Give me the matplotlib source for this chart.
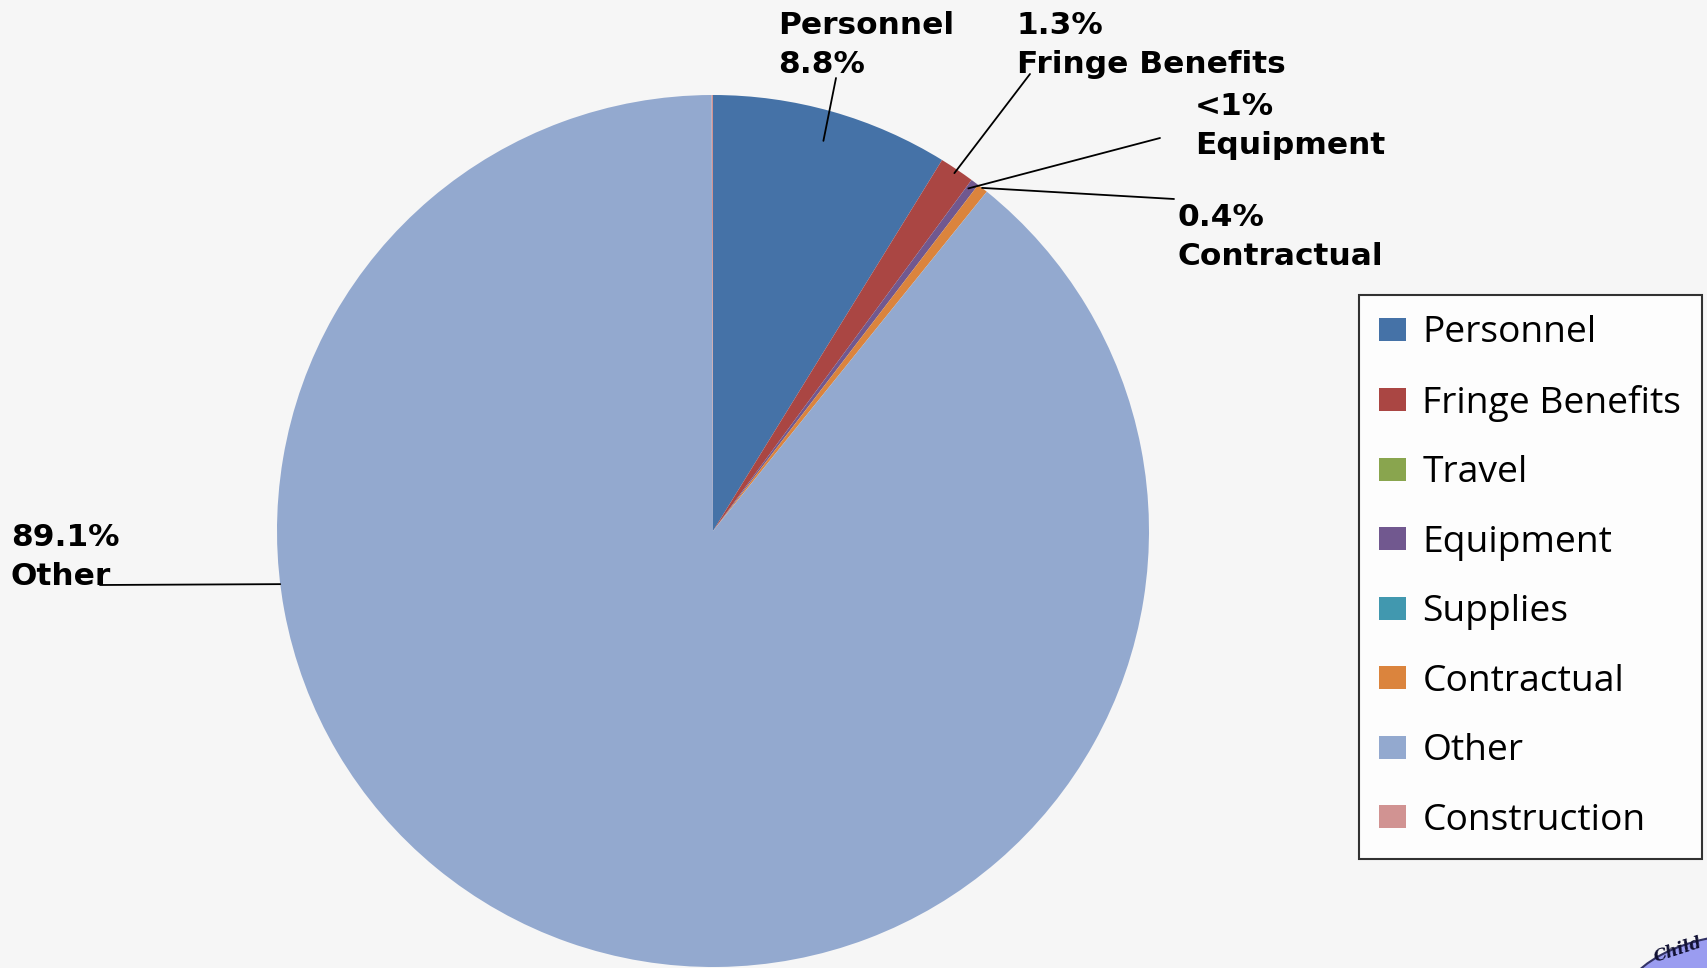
import numpy as np
from matplotlib import pyplot as plt
from matplotlib.patches import Ellipse

categorias = ['Personnel', 'Fringe Benefits', 'Travel', 'Equipment',
              'Supplies', 'Contractual', 'Other', 'Construction']
porcentajes = [8.8, 1.3, 0.0, 0.3, 0.0, 0.4, 89.1, 0.05]
colores = ['#4572A7', '#AA4643', '#89A54E', '#71588F',
           '#4198AF', '#DB843D', '#93A9CF', '#D19392']

# etiquetas: texto, esquina sup-izq del texto (px), inicio de la linea (px),
# angulo y radio donde toca la rebanada
etiquetas = [
    ('Personnel\n8.8%', (778, 11), (836, 78), 74.2, 0.93),
    ('1.3%\nFringe Benefits', (1017, 11), (1030, 74), 56.0, 0.99),
    ('<1%\nEquipment', (1195, 92), (1160, 138), 53.3, 0.98),
    ('0.4%\nContractual', (1178, 203), (1174, 199), 51.9, 1.0),
    ('89.1%\nOther', (11, 523), (100, 585), 187.0, 1.0),
]

W, H = 1708, 968
fig = plt.figure(figsize=(W / 100, H / 100), dpi=100, facecolor='#f6f6f6')

cx, cy, r = 713, 531, 436
ax = fig.add_axes([(cx - r) / W, (H - cy - r) / H, 2 * r / W, 2 * r / H])
wedges, _ = ax.pie(porcentajes, colors=colores, startangle=90,
                   counterclock=False, wedgeprops=dict(linewidth=0))
ax.set_xlim(-1, 1)
ax.set_ylim(-1, 1)
ax.set_aspect('equal')
ax.axis('off')

for texto, (tx, ty), (lx, ly), ang, rad in etiquetas:
    fig.text(tx / W, 1 - ty / H, texto, ha='left', va='top',
             fontsize=22.5, fontweight='bold', family='DejaVu Sans',
             linespacing=1.42)
    a = np.deg2rad(ang)
    ax.annotate('', xy=(rad * np.cos(a), rad * np.sin(a)), xycoords='data',
                xytext=(lx, H - ly), textcoords='figure pixels',
                arrowprops=dict(arrowstyle='-', color='black', lw=1.3,
                                shrinkA=0, shrinkB=0),
                annotation_clip=False)

leg = fig.legend(wedges, categorias, loc='upper left',
                 bbox_to_anchor=(1359 / W, 1 - 295 / H),
                 prop=dict(family='Open Sans', size=26.8),
                 frameon=True, fancybox=False, edgecolor='black',
                 handlelength=0.7, handleheight=0.58, handletextpad=0.45,
                 labelspacing=0.9, borderpad=0.55, borderaxespad=0)
leg.get_frame().set_linewidth(1.5)
leg.get_frame().set_facecolor('white')

# logo de la esquina
logo = Ellipse((1760, -40), 280, 150, transform=None,
               facecolor='#9a9cf0', edgecolor='#333366', lw=1.5)
fig.patches.append(logo)
fig.text(1652 / W, 1 - 950 / H, 'Child', fontsize=12, fontstyle='italic',
         fontweight='bold', family='DejaVu Serif', rotation=18,
         color='#111133', ha='left', va='center')

fig.savefig('out.png', dpi=100, facecolor=fig.get_facecolor())
